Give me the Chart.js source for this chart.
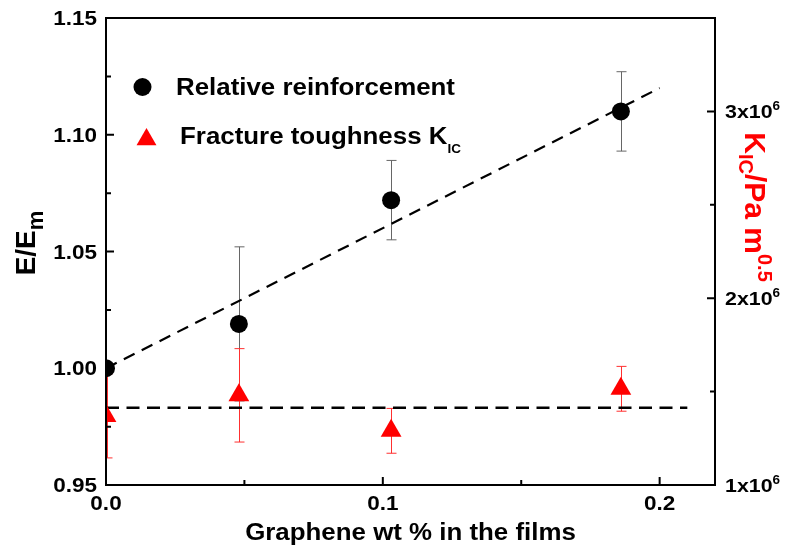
<!DOCTYPE html>
<html>
<head>
<meta charset="UTF-8">
<title>E/Em and KIC vs graphene content</title>
<script src="https://cdn.jsdelivr.net/npm/chart.js"></script>
<style>
  html, body { margin: 0; padding: 0; background: #fff; }
  #wrap { width: 787px; height: 554px; }
</style>
</head>
<body>
<div id="wrap"><canvas id="myChart" width="787" height="554"></canvas></div>
<script>
// graphene content in the films (wt %)
const graphene = [0, 0.048, 0.103, 0.186];
// relative reinforcement E/Em (left axis) and its error
const relReinf = [1.000, 1.019, 1.072, 1.110];
const relErr = [0, 0.033, 0.017, 0.017];
// fracture toughness KIC in Pa m^0.5 (right axis) and its error
const kic = [1.37e6, 1.48e6, 1.29e6, 1.515e6];
const kicErr = [0.225e6, 0.25e6, 0.12e6, 0.12e6];
// linear fit of E/Em and mean level of KIC
const fitX = [0, 0.2];
const fitY = [1.0, 1.12];
const meanX = [0, 0.21];
const meanK = [1.413e6, 1.413e6];
// ticks
const xTicks = [0.0, 0.1, 0.2];
const xMinor = [0.05, 0.15];
const yTicks = [0.95, 1.00, 1.05, 1.10, 1.15];
const yMinor = [0.975, 1.025, 1.075, 1.125];
const y2Ticks = [1e6, 2e6, 3e6];
const y2Minor = [1.5e6, 2.5e6];

const FONT = '"Liberation Sans", Arial, sans-serif';
const SX = 1.125; // the source figure is a bit wider than tall

function setFont(ctx, size) { ctx.font = 'bold ' + size + 'px ' + FONT; }

// text made of pieces (for sub/superscripts)
function richWidth(ctx, segs) {
  let w = 0;
  segs.forEach(s => { setFont(ctx, s.size); w += ctx.measureText(s.t).width; });
  return w;
}
function drawRich(ctx, segs, x, y, align, color) {
  const w = richWidth(ctx, segs);
  let cx = align === 'center' ? x - w / 2 : align === 'right' ? x - w : x;
  ctx.textAlign = 'left';
  ctx.textBaseline = 'alphabetic';
  segs.forEach(s => {
    setFont(ctx, s.size);
    ctx.fillStyle = color;
    ctx.fillText(s.t, cx, y + (s.dy || 0));
    cx += ctx.measureText(s.t).width;
  });
}
function drawWide(ctx, segs, x, y, align, color) {
  ctx.save();
  ctx.translate(x, y);
  ctx.scale(SX, 1);
  drawRich(ctx, segs, 0, 0, align, color);
  ctx.restore();
}

function drawErr(ctx, xs, ys, xv, yv, ev, color) {
  ctx.save();
  ctx.strokeStyle = color;
  ctx.lineWidth = 1;
  for (let i = 0; i < xv.length; i++) {
    if (!ev[i]) continue;
    // keep the bar at the axis just inside the frame
    const px = Math.max(Math.round(xs.getPixelForValue(xv[i])), xs.left + 1) + 0.5;
    const top = ys.getPixelForValue(yv[i] + ev[i]);
    const bot = ys.getPixelForValue(yv[i] - ev[i]);
    ctx.beginPath();
    ctx.moveTo(px, top); ctx.lineTo(px, bot);
    ctx.moveTo(px - 5, top); ctx.lineTo(px + 5, top);
    ctx.moveTo(px - 5, bot); ctx.lineTo(px + 5, bot);
    ctx.stroke();
  }
  ctx.restore();
}

// clip everything drawn in the plot to the frame (markers at x = 0 show half)
const clipPlot = {
  id: 'clipPlot',
  beforeDatasetsDraw(chart) {
    const { ctx, chartArea: a } = chart;
    ctx.save();
    ctx.beginPath();
    ctx.rect(a.left, a.top, a.right - a.left, a.bottom - a.top);
    ctx.clip();
  },
  afterDatasetsDraw(chart) {
    chart.ctx.restore();
  }
};

const errorBars = {
  id: 'errorBars',
  beforeDatasetsDraw(chart) {
    const { ctx, scales: { x, y, y2 } } = chart;
    drawErr(ctx, x, y, graphene, relReinf, relErr, '#666666');
    drawErr(ctx, x, y2, graphene, kic, kicErr, '#ff3030');
  }
};

const frameAndText = {
  id: 'frameAndText',
  afterDraw(chart) {
    const { ctx, chartArea: a, scales: { x, y, y2 } } = chart;
    ctx.save();
    // frame
    ctx.strokeStyle = '#000';
    ctx.lineWidth = 2;
    ctx.strokeRect(a.left, a.top, a.right - a.left, a.bottom - a.top);
    // inward ticks
    ctx.beginPath();
    xTicks.forEach(v => { const p = x.getPixelForValue(v); ctx.moveTo(p, a.bottom); ctx.lineTo(p, a.bottom - 8); });
    xMinor.forEach(v => { const p = x.getPixelForValue(v); ctx.moveTo(p, a.bottom); ctx.lineTo(p, a.bottom - 5); });
    yTicks.forEach(v => { const p = y.getPixelForValue(v); ctx.moveTo(a.left, p); ctx.lineTo(a.left + 8, p); });
    yMinor.forEach(v => { const p = y.getPixelForValue(v); ctx.moveTo(a.left, p); ctx.lineTo(a.left + 5, p); });
    y2Ticks.forEach(v => { const p = y2.getPixelForValue(v); ctx.moveTo(a.right, p); ctx.lineTo(a.right - 8, p); });
    y2Minor.forEach(v => { const p = y2.getPixelForValue(v); ctx.moveTo(a.right, p); ctx.lineTo(a.right - 5, p); });
    ctx.stroke();

    // tick labels
    yTicks.forEach(v => {
      drawWide(ctx, [{ t: v.toFixed(2), size: 20 }], a.left - 9, y.getPixelForValue(v) + 7, 'right', '#000');
    });
    xTicks.forEach(v => {
      drawWide(ctx, [{ t: v.toFixed(1), size: 20 }], x.getPixelForValue(v), a.bottom + 25, 'center', '#000');
    });
    y2Ticks.forEach(v => {
      const m = Math.round(v / 1e6);
      drawWide(ctx, [{ t: m + 'x10', size: 19 }, { t: '6', size: 12, dy: -8 }],
        a.right + 10, y2.getPixelForValue(v) + 7, 'left', '#000');
    });

    // axis titles
    drawWide(ctx, [{ t: 'Graphene wt % in the films', size: 23 }], (a.left + a.right) / 2, 540, 'center', '#000');

    ctx.save();
    ctx.translate(35, 243);
    ctx.rotate(-Math.PI / 2);
    drawRich(ctx, [{ t: 'E/E', size: 28 }, { t: 'm', size: 22, dy: 8 }], 0, 0, 'center', '#000');
    ctx.restore();

    ctx.save();
    ctx.translate(745, 207);
    ctx.rotate(Math.PI / 2);
    drawRich(ctx, [{ t: 'K', size: 30 }, { t: 'IC', size: 20, dy: 6 }, { t: '/Pa m', size: 30 },
      { t: '0.5', size: 20, dy: -13 }], 0, 0, 'center', '#ff0000');
    ctx.restore();

    // legend
    ctx.fillStyle = '#000';
    Chart.helpers.drawPoint(ctx, { pointStyle: 'circle', radius: 9, borderWidth: 0 }, 142.5, 87);
    drawWide(ctx, [{ t: 'Relative reinforcement', size: 23 }], 176, 95, 'left', '#000');
    ctx.fillStyle = '#ff0000';
    Chart.helpers.drawPoint(ctx, { pointStyle: 'triangle', radius: 11.5, borderWidth: 0 }, 146.5, 139.5);
    drawWide(ctx, [{ t: 'Fracture toughness K', size: 23 }, { t: 'IC', size: 12, dy: 9 }], 180, 143.5, 'left', '#000');
    ctx.restore();
  }
};

const pts = (xs, ys) => xs.map((v, i) => ({ x: v, y: ys[i] }));

const config = {
  type: 'scatter',
  data: {
    datasets: [
      {
        label: 'Relative reinforcement',
        data: pts(graphene, relReinf),
        yAxisID: 'y',
        pointStyle: 'circle',
        pointRadius: 9,
        backgroundColor: '#000000',
        borderWidth: 0
      },
      {
        label: 'Fracture toughness KIC',
        data: pts(graphene, kic),
        yAxisID: 'y2',
        pointStyle: 'triangle',
        pointRadius: 12,
        backgroundColor: '#ff0000',
        borderWidth: 0
      },
      {
        label: 'fit',
        data: pts(fitX, fitY),
        yAxisID: 'y',
        showLine: true,
        borderColor: '#000000',
        borderWidth: 2.2,
        borderDash: [12, 8],
        pointRadius: 0
      },
      {
        label: 'mean',
        data: pts(meanX, meanK),
        yAxisID: 'y2',
        showLine: true,
        borderColor: '#000000',
        borderWidth: 2.5,
        borderDash: [13, 7.5],
        pointRadius: 0
      }
    ]
  },
  options: {
    responsive: false,
    animation: false,
    layout: { padding: { top: 18, left: 0, right: 0, bottom: 0 } },
    plugins: { legend: { display: false }, tooltip: { enabled: false } },
    scales: {
      x: {
        type: 'linear', min: 0, max: 0.22,
        grid: { display: false }, border: { display: false }, ticks: { display: false },
        afterFit(s) { s.height = 69; }
      },
      y: {
        type: 'linear', position: 'left', min: 0.95, max: 1.15,
        grid: { display: false }, border: { display: false }, ticks: { display: false },
        afterFit(s) { s.width = 106; }
      },
      y2: {
        type: 'linear', position: 'right', min: 1e6, max: 3.5e6,
        grid: { display: false }, border: { display: false }, ticks: { display: false },
        afterFit(s) { s.width = 72; }
      }
    }
  },
  plugins: [clipPlot, errorBars, frameAndText]
};

new Chart(document.getElementById('myChart'), config);
</script>
</body>
</html>
